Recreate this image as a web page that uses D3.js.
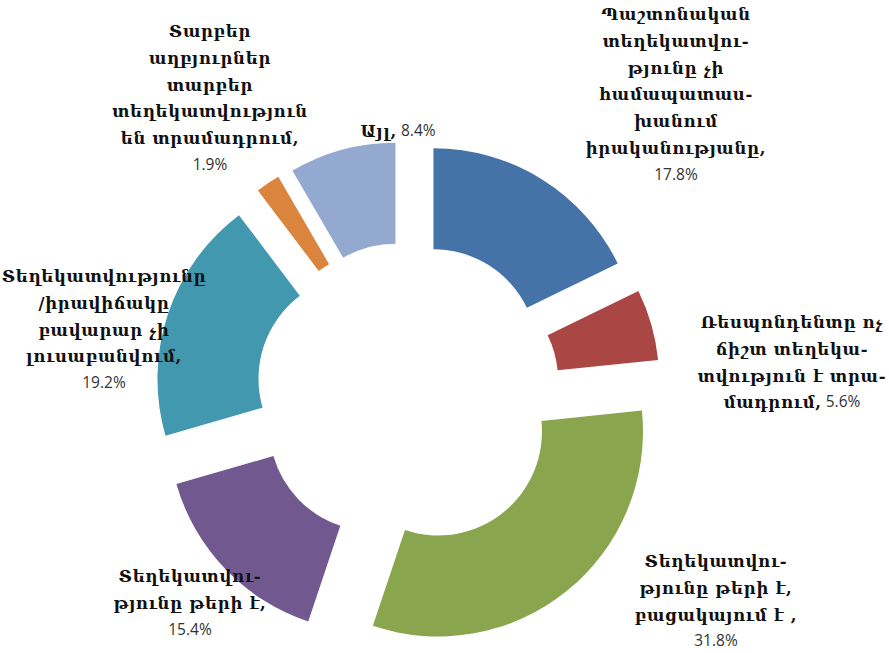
<!DOCTYPE html>
<html><head><meta charset="utf-8">
<script src="https://cdn.jsdelivr.net/npm/d3@7"></script>
<style>
html,body{margin:0;padding:0;background:#fff;}
svg{display:block;}
</style>
</head><body>
<svg id="chart" width="889" height="653"></svg>
<script>
// ---- data ----
const categories = [
  "Պաշտոնական տեղեկատվությունը չի համապատասխանում իրականությանը",
  "Ռեսպոնդենտը ոչ ճիշտ տեղեկատվություն է տրամադրում",
  "Տեղեկատվությունը թերի է, բացակայում է",
  "Տեղեկատվությունը թերի է",
  "Տեղեկատվությունը /իրավիճակը բավարար չի լուսաբանվում",
  "Տարբեր աղբյուրներ տարբեր տեղեկատվություն են տրամադրում",
  "Այլ"
];
const values = [17.8, 5.6, 31.8, 15.4, 19.2, 1.9, 8.4];
const valueLabels = ["17.8%", "5.6%", "31.8%", "15.4%", "19.2%", "1.9%", "8.4%"];
// label text lines as shown (wrapped)
const labelLines = [
  ["Պաշտոնական", "տեղեկատվու-", "թյունը չի", "համապատաս-", "խանում", "իրականությանը,"],
  ["Ռեսպոնդենտը ոչ", "ճիշտ տեղեկա-", "տվություն է տրա-", "մադրում,"],
  ["Տեղեկատվու-", "թյունը թերի է,", "բացակայում է ,"],
  ["Տեղեկատվու-", "թյունը թերի է,"],
  ["Տեղեկատվությունը", "/իրավիճակը", "բավարար չի", "լուսաբանվում,"],
  ["Տարբեր", "աղբյուրներ", "տարբեր", "տեղեկատվություն", "են տրամադրում,"],
  ["Այլ,"]
];
// whether percentage sits on the same line as the last text line
const pctInline = [false, true, false, false, false, false, true];
const colors = ["#4572A7", "#AA4643", "#89A54E", "#71588F", "#4198AF", "#DB843D", "#93A9CF"];

// ---- layout (style) ----
const cx = 408, cy = 394, outerR = 205, innerR = 104, explode = 48;
const labelPos = [[676, 15], [792, 323], [716, 562], [190, 577], [104, 277], [210, 32], [398, 132]];
const lineH = 26.8;

const svg = d3.select("#chart");
const g = svg.append("g").attr("transform", `translate(${cx},${cy})`);

const pie = d3.pie().sort(null).value(d => d).startAngle(0).endAngle(2 * Math.PI);
const arcs = pie(values);
const arc = d3.arc().innerRadius(innerR).outerRadius(outerR);

g.selectAll("path.slice").data(arcs).enter().append("path")
  .attr("class", "slice")
  .attr("d", arc)
  .attr("fill", (d, i) => colors[i])
  .attr("transform", d => {
    const m = (d.startAngle + d.endAngle) / 2;
    return `translate(${explode * Math.sin(m)},${-explode * Math.cos(m)})`;
  });

const armFont = "'DejaVu Serif', serif";
const pctFont = "'Open Sans', 'Liberation Sans', sans-serif";

labelLines.forEach((lines, i) => {
  const [lx, ly] = labelPos[i];
  const t = svg.append("text")
    .attr("text-anchor", "middle")
    .attr("dominant-baseline", "middle");
  lines.forEach((ln, j) => {
    t.append("tspan")
      .attr("x", lx)
      .attr("y", ly + j * lineH)
      .attr("font-family", armFont)
      .attr("font-weight", "bold")
      .attr("font-size", 16.5)
      .attr("letter-spacing", 0.7)
      .attr("fill", "#111")
      .text(ln);
  });
  if (pctInline[i]) {
    t.append("tspan")
      .attr("font-family", pctFont)
      .attr("font-size", 15.5)
      .attr("fill", "#333")
      .text(" " + valueLabels[i]);
  } else {
    t.append("tspan")
      .attr("x", lx)
      .attr("y", ly + lines.length * lineH)
      .attr("font-family", pctFont)
      .attr("font-size", 15.5)
      .attr("fill", "#333")
      .text(valueLabels[i]);
  }
});
</script>
</body></html>
